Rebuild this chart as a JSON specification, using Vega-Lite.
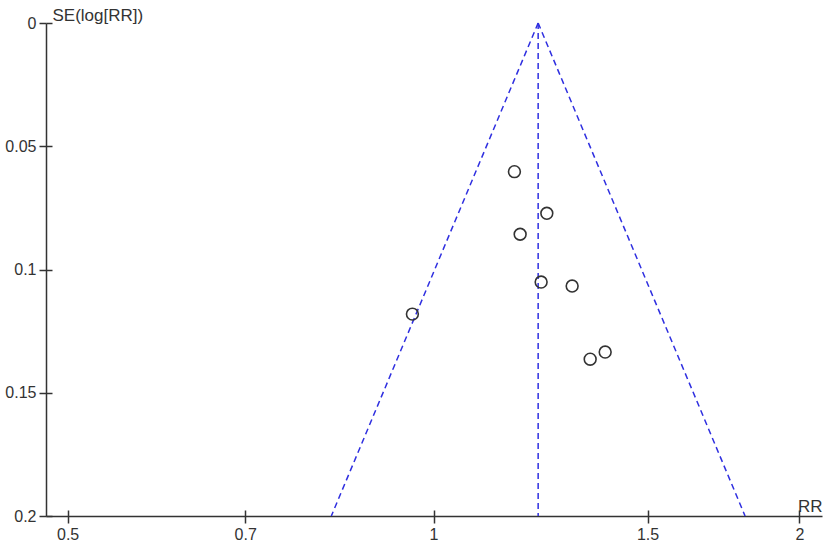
{
  "$schema": "https://vega.github.io/schema/vega-lite/v6.json",
  "autosize": {"type": "none"},
  "padding": {"left": 46, "top": 23, "right": 5, "bottom": 31},
  "width": 776,
  "height": 493,
  "background": "white",
  "config": {
    "view": {"stroke": null},
    "axis": {"grid": false, "labelFont": "Liberation Sans", "titleFont": "Liberation Sans", "labelColor": "#333", "titleColor": "#333", "domainColor": "#333", "tickColor": "#333"}
  },
  "datasets": {
    "studies": [
      {"rr": 1.1657, "se": 0.0603},
      {"rr": 1.2395, "se": 0.0772},
      {"rr": 1.1784, "se": 0.0857},
      {"rr": 1.2262, "se": 0.1051},
      {"rr": 1.3004, "se": 0.1067},
      {"rr": 1.3844, "se": 0.1335},
      {"rr": 1.3456, "se": 0.1364},
      {"rr": 0.9608, "se": 0.1181}
    ],
    "funnel": [
      {"line": "left", "rr": 0.824, "se": 0.2},
      {"line": "left", "rr": 1.2193, "se": 0},
      {"line": "right", "rr": 1.2193, "se": 0},
      {"line": "right", "rr": 1.8046, "se": 0.2},
      {"line": "center", "rr": 1.2193, "se": 0},
      {"line": "center", "rr": 1.2193, "se": 0.2}
    ]
  },
  "layer": [
    {
      "data": {"name": "funnel"},
      "mark": {"type": "line", "color": "#2f2fe0", "strokeDash": [6, 4], "strokeWidth": 1.5},
      "encoding": {
        "x": {
          "field": "rr", "type": "quantitative",
          "scale": {"type": "log", "domain": [0.4799, 2.0877], "nice": false, "zero": false},
          "axis": {"orient": "bottom", "values": [0.5, 0.7, 1, 1.5, 2], "format": "~g", "domain": false, "labels": false, "title": null, "tickSize": 6, "offset": -6, "tickWidth": 1.5}
        },
        "y": {
          "field": "se", "type": "quantitative",
          "scale": {"domain": [0, 0.2], "reverse": true, "nice": false, "zero": false},
          "axis": {"orient": "left", "values": [0, 0.05, 0.1, 0.15, 0.2], "domain": false, "labels": false, "title": null, "tickSize": 6, "offset": -6, "tickWidth": 1.5}
        },
        "detail": {"field": "line"},
        "order": {"field": "se"}
      }
    },
    {
      "data": {"name": "studies"},
      "mark": {"type": "point", "shape": "circle", "filled": false, "stroke": "#333", "strokeWidth": 1.6, "size": 140, "opacity": 1},
      "encoding": {
        "x": {
          "field": "rr", "type": "quantitative",
          "scale": {"type": "log", "domain": [0.4799, 2.0877], "nice": false, "zero": false},
          "axis": {"orient": "bottom", "values": [0.5, 0.7, 1, 1.5, 2], "format": "~g", "domainWidth": 1.5, "tickWidth": 1.5, "tickSize": 7, "labelFontSize": 16, "labelPadding": 3,
            "title": "RR", "titleFontSize": 17, "titleFontWeight": "normal", "titleAngle": 0, "titleAlign": "right", "titleBaseline": "middle", "titleX": 776, "titleY": -10}
        },
        "y": {
          "field": "se", "type": "quantitative",
          "scale": {"domain": [0, 0.2], "reverse": true, "nice": false, "zero": false},
          "axis": {"orient": "left", "values": [0, 0.05, 0.1, 0.15, 0.2], "format": "~g", "domainWidth": 1.5, "tickWidth": 1.5, "tickSize": 7, "labelFontSize": 16, "labelPadding": 3,
            "title": "SE(log[RR])", "titleFontSize": 17, "titleFontWeight": "normal", "titleAngle": 0, "titleAlign": "left", "titleBaseline": "middle", "titleX": 6, "titleY": -8}
        }
      }
    }
  ],
  "resolve": {"axis": {"x": "independent", "y": "independent"}}
}
